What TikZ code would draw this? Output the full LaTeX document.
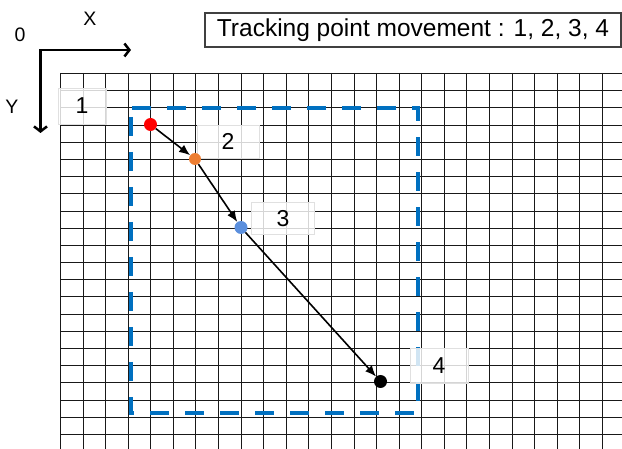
\documentclass[tikz,border=0pt]{standalone}
\usepackage{fontspec}
\setmainfont{Liberation Sans}
\usetikzlibrary{arrows.meta}
\definecolor{dashblue}{HTML}{0070C0}
\definecolor{ptorange}{HTML}{ED7D31}
\definecolor{ptblue}{HTML}{5B8FDD}
\tikzset{
  gridline/.style={draw=black!90, line width=1.5pt},
  lbox/.style={rectangle, fill=white, fill opacity=0.82, text opacity=1, draw=black!12, line width=0.8pt, inner sep=0pt, font=\fontsize{23}{26}\selectfont},
  dot/.style={circle, inner sep=0pt, minimum size=13pt, draw=none},
  move/.style={draw=black, line width=1.6pt, -{Latex[length=11pt,width=9pt]}},
  axis/.style={draw=black, line width=2.5pt, {Straight Barb[length=5pt,width=13pt]}-{Straight Barb[length=5pt,width=13pt]}},
  axlabel/.style={inner sep=0pt, font=\fontsize{19.5}{22}\selectfont},
  titlebox/.style={rectangle, draw=black!75, line width=1.2pt, fill=white, inner sep=0pt, minimum width=416pt, minimum height=34pt, font=\fontsize{24.5}{28}\selectfont}
}
\begin{document}
\begin{tikzpicture}[x=1pt,y=-1pt]
\useasboundingbox[fill=white] (0,0) rectangle (622,449);
% grid
\foreach \i in {0,...,24} \draw[gridline] ({round(60+22.583*\i)+0.5},73) -- ({round(60+22.583*\i)+0.5},449);
\foreach \j in {0,...,21} \draw[gridline] (60,{round(73+17.19*\j)+0.5}) -- (622,{round(73+17.19*\j)+0.5});
% dashed region
\draw[dashblue, line width=4pt, dash pattern=on 19pt off 16pt, dash phase=26pt] (131,108) rectangle (418,413);
% label boxes
\node[lbox, minimum width=48pt, minimum height=36pt] (l1) at (82,106) {1};
\node[lbox, minimum width=62pt, minimum height=33pt] (l2) at (228,141.5) {2};
\node[lbox, minimum width=63pt, minimum height=32pt] (l3) at (283,218.5) {3};
\node[lbox, minimum width=58pt, minimum height=35pt] (l4) at (439,365.5) {4};
% points
\node[dot, fill=red] (p1) at (150.5,124.5) {};
\node[dot, fill=ptorange, minimum size=12pt] (p2) at (195,159) {};
\node[dot, fill=ptblue] (p3) at (241,227.5) {};
\node[dot, fill=black] (p4) at (380.5,381.5) {};
\draw[move] (p1) -- (p2);
\draw[move] (p2) -- (p3);
\draw[move] (p3) -- (p4);
% axes
\coordinate (o) at (40.5,50);
\coordinate (xe) at (131,50);
\coordinate (ye) at (40.5,133);
\draw[axis] (xe) -- (o) -- (ye);
\node[axlabel] (xl) at (90,19) {X};
\node[axlabel] (zl) at (20,34.5) {0};
\node[axlabel] (yl) at (12,106.5) {Y};
% title
\node[titlebox] (title) at (413,30) {Tracking point movement : 1, 2, 3, 4};
\end{tikzpicture}
\end{document}
